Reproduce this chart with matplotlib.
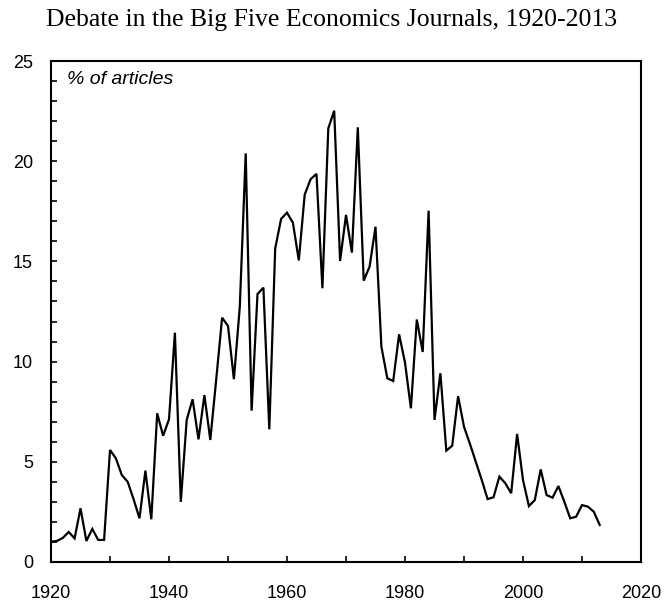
import matplotlib
matplotlib.use("Agg")
import matplotlib.pyplot as plt
from matplotlib.ticker import MultipleLocator

years = list(range(1920, 2014))
share = [
    1.01, 1.05, 1.2, 1.5, 1.18, 2.68, 1.05, 1.65, 1.1, 1.1,        # 1920s
    5.59, 5.17, 4.34, 4.0, 3.13, 2.18, 4.56, 2.13, 7.42, 6.3,      # 1930s
    7.12, 11.44, 3.0, 7.09, 8.12, 6.12, 8.33, 6.09, 9.1, 12.19,    # 1940s
    11.78, 9.12, 12.74, 20.39, 7.55, 13.37, 13.69, 6.62, 15.65, 17.12,  # 1950s
    17.43, 16.93, 15.05, 18.33, 19.1, 19.37, 13.66, 21.64, 22.52, 15.02,  # 1960s
    17.32, 15.44, 21.69, 14.04, 14.74, 16.73, 10.74, 9.17, 9.03, 11.36,  # 1970s
    9.95, 7.67, 12.1, 10.48, 17.53, 7.09, 9.42, 5.56, 5.8, 8.28,   # 1980s
    6.75, 5.9, 5.0, 4.1, 3.14, 3.23, 4.26, 3.93, 3.43, 6.39,       # 1990s
    4.09, 2.79, 3.09, 4.62, 3.34, 3.21, 3.79, 3.01, 2.18, 2.26,    # 2000s
    2.84, 2.76, 2.51, 1.85,                                        # 2010s
]

title = "Debate in the Big Five Economics Journals, 1920-2013"
unit_label = "% of articles"

fig = plt.figure(figsize=(6.64, 6.05), dpi=100)
ax = fig.add_axes([51/664, 1 - 562/605, (641-51)/664, (562-61)/605])
ax.plot(years, share, color="black", lw=1.6, solid_joinstyle="miter")

ax.set_xlim(1920, 2020)
ax.set_ylim(0, 25)
ax.xaxis.set_major_locator(MultipleLocator(20))
ax.xaxis.set_minor_locator(MultipleLocator(10))
ax.yaxis.set_major_locator(MultipleLocator(5))
ax.yaxis.set_minor_locator(MultipleLocator(1))
ax.tick_params(which="both", direction="in", length=4, width=1.2, colors="black",
               labelsize=13, top=False, right=False)
ax.tick_params(axis="y", which="both", pad=13)
ax.tick_params(axis="x", which="both", pad=16.5)
for lab in ax.get_xticklabels() + ax.get_yticklabels():
    lab.set_fontfamily("Liberation Sans")
for s in ax.spines.values():
    s.set_linewidth(1.5)

ax.text((67-51)/590, 1 - (80-61)/501, unit_label, transform=ax.transAxes,
        ha="left", va="center", fontsize=14, style="italic", family="Liberation Sans")

fig.text(0.5, 1 - 20/605, title, ha="center", va="center", fontsize=18.5,
         family="Liberation Serif")

fig.savefig("out.png", dpi=100)
